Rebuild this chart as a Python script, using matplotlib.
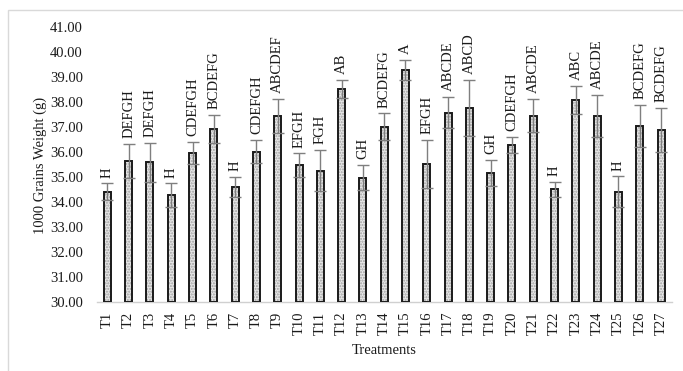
import matplotlib
matplotlib.use("Agg")
import matplotlib.pyplot as plt
from matplotlib.patches import Rectangle
import numpy as np

plt.rcParams['font.family'] = ['Liberation Serif', 'DejaVu Serif']

# Treatment means, standard errors and significance groups
treatments = [f"T{i}" for i in range(1, 28)]
weights = [34.41, 35.64, 35.59, 34.28, 35.97, 36.92, 34.61, 36.01, 37.44,
           35.48, 35.25, 38.51, 34.97, 37.01, 39.28, 35.51, 37.57, 37.75,
           35.15, 36.28, 37.45, 34.51, 38.08, 37.44, 34.40, 37.04, 36.88]
errors = [0.34, 0.68, 0.78, 0.47, 0.44, 0.56, 0.40, 0.47, 0.67,
          0.47, 0.83, 0.37, 0.51, 0.53, 0.40, 0.97, 0.62, 1.13,
          0.53, 0.33, 0.66, 0.30, 0.56, 0.84, 0.62, 0.84, 0.87]
groups = ["H", "DEFGH", "DEFGH", "H", "CDEFGH", "BCDEFG", "H", "CDEFGH",
          "ABCDEF", "EFGH", "FGH", "AB", "GH", "BCDEFG", "A", "EFGH",
          "ABCDE", "ABCD", "GH", "CDEFGH", "ABCDE", "H", "ABC", "ABCDE",
          "H", "BCDEFG", "BCDEFG"]

W, H = 683, 371
fig = plt.figure(figsize=(W / 100, H / 100), dpi=100)
ax = fig.add_axes([96.7 / W, 1 - 302 / H, 575 / W, 275.3 / H])

x = np.arange(len(treatments))
bw = 0.33

# stippled fill
ax.bar(x, np.array(weights) - 30, bottom=30, width=bw, color='#e6e6e6',
       edgecolor='#a0a0a0', linewidth=0, hatch='......', zorder=2)
# black outline
ax.bar(x, np.array(weights) - 30, bottom=30, width=bw, fill=False,
       edgecolor='#1a1a1a', linewidth=1.4, zorder=3)

ax.errorbar(x, weights, yerr=errors, fmt='none', ecolor='#7f7f7f',
            elinewidth=1.0, capsize=4.5, capthick=1.0, zorder=4)

for xi, w, e, g in zip(x, weights, errors, groups):
    ax.annotate(g, (xi, w + e), xytext=(0, 4), textcoords='offset points',
                rotation=90, ha='center', va='bottom', fontsize=10.5,
                color='#1a1a1a')

ax.set_xlim(-0.5, len(treatments) - 0.5)
ax.set_ylim(30, 41)
ax.set_yticks(np.arange(30, 42, 1))
ax.set_yticklabels([f"{v:.2f}" for v in np.arange(30, 42, 1)], fontsize=10.5,
                   color='#1a1a1a')
ax.set_xticks(x)
ax.set_xticklabels(treatments, rotation=90, fontsize=10.5, color='#1a1a1a')
ax.tick_params(axis='y', length=0, pad=10)
ax.tick_params(axis='x', length=0, pad=7)

for s in ('top', 'right', 'left'):
    ax.spines[s].set_visible(False)
ax.spines['bottom'].set_color('#d0d0d0')
ax.spines['bottom'].set_linewidth(1.0)

ax.set_xlabel("Treatments", fontsize=10.5, labelpad=6, color='#1a1a1a')
fig.text(40 / W, 1 - 165 / H, "1000 Grains Weight (g)", rotation=90,
         ha='center', va='center', fontsize=10.5, color='#1a1a1a')

# chart frame
fig.patches.append(Rectangle((8 / W, -0.05), 1.1, 1 - 10 / H + 0.05,
                             transform=fig.transFigure, fill=False,
                             edgecolor='#d9d9d9', linewidth=1.0))

fig.savefig("out.png", dpi=100)
